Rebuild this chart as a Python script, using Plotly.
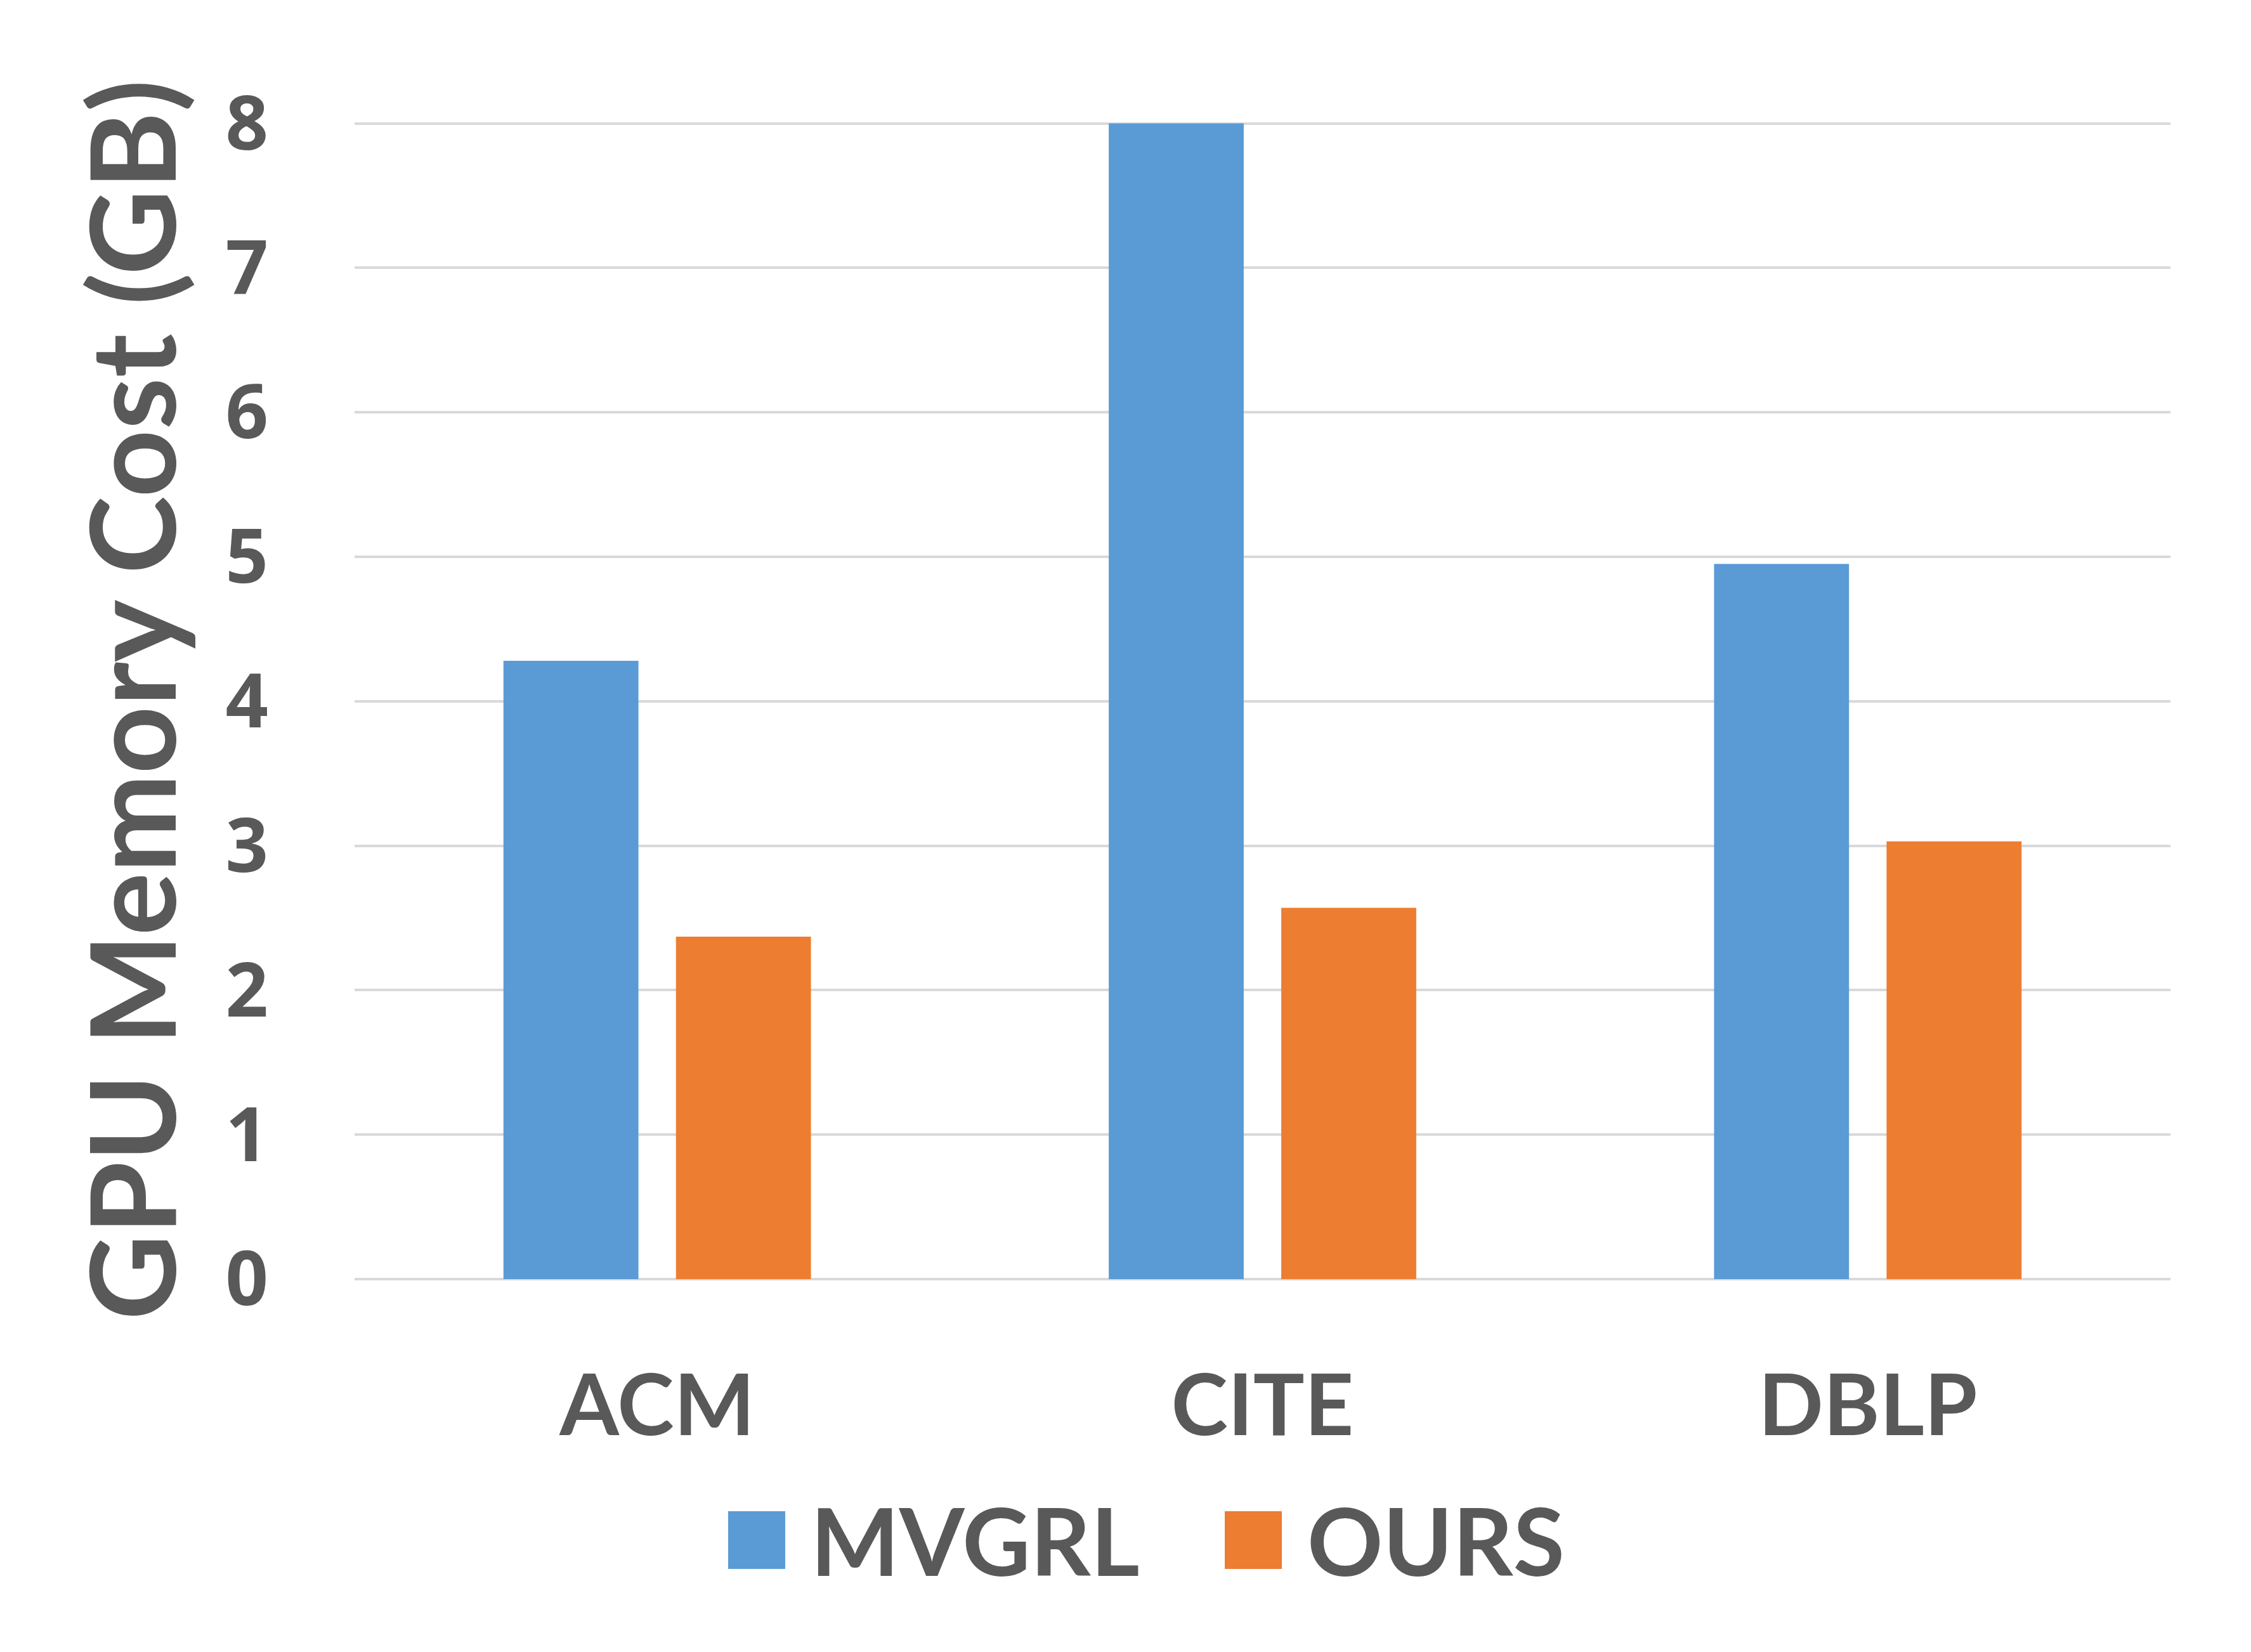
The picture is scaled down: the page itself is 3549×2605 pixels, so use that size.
import plotly.graph_objects as go

categories = ["ACM", "CITE", "DBLP"]
mvgrl = [4.28, 8.0, 4.95]
ours = [2.37, 2.57, 3.03]
series_names = ["MVGRL", "OURS"]
y_ticks = [0, 1, 2, 3, 4, 5, 6, 7, 8]

BLUE = "#5B9BD5"
ORANGE = "#ED7D31"
TEXT = "#595959"
FONT = "Lato"
NUMFONT = "Noto Sans"

# page has an 8px body margin; figure sized so that it fits the window
W, H = 3541, 2597
ML, MR, MT, MB = 551, 127, 182, 588

fig = go.Figure()
fig.add_trace(go.Bar(x=categories, y=mvgrl, name=series_names[0],
                     marker=dict(color=BLUE, line=dict(width=0)), showlegend=False))
fig.add_trace(go.Bar(x=categories, y=ours, name=series_names[1],
                     marker=dict(color=ORANGE, line=dict(width=0)), showlegend=False))

fig.update_layout(
    width=W, height=H,
    margin=dict(l=ML, r=MR, t=MT, b=MB, autoexpand=False),
    paper_bgcolor="white", plot_bgcolor="white",
    barmode="group", bargap=0.43, bargroupgap=0.2175,
    font=dict(family=FONT, color=TEXT),
)
fig.update_xaxes(
    showgrid=False, zeroline=False, showline=False, ticks="",
    tickfont=dict(family=FONT, size=135, color=TEXT, weight="bold"),
    ticklabelstandoff=110,
)
fig.update_yaxes(
    range=[0, 8.02], tickvals=y_ticks, ticks="",
    showgrid=True, gridcolor="#D9D9D9", gridwidth=4,
    zeroline=True, zerolinecolor="#D9D9D9", zerolinewidth=4,
    showline=False,
    tickfont=dict(family=NUMFONT, size=118, color=TEXT, weight="bold"),
    ticklabelstandoff=135,
    title=dict(text="GPU Memory Cost (GB)", standoff=14,
               font=dict(family=FONT, size=186, color=TEXT, weight="bold")),
)

# legend drawn manually with large swatches (page pixel positions)
plot_w = W - ML - MR
plot_h = H - MT - MB
def px_x(x):
    return (x - 8 - ML) / plot_w
def px_y(y):
    return (H - MB - (y - 8)) / plot_h

swatches = [(1148, 1238, BLUE, 1276, series_names[0]),
            (1931, 2021, ORANGE, 2059, series_names[1])]
for x0, x1, col, tx, name in swatches:
    fig.add_shape(type="rect", xref="paper", yref="paper",
                  x0=px_x(x0), x1=px_x(x1), y0=px_y(2474), y1=px_y(2383),
                  fillcolor=col, line=dict(width=0))
    fig.add_annotation(xref="paper", yref="paper", x=px_x(tx), y=px_y(2428),
                       xanchor="left", yanchor="middle", showarrow=False,
                       text=name,
                       font=dict(family=FONT, size=148, color=TEXT, weight="bold"))

fig.write_html("out.html")
